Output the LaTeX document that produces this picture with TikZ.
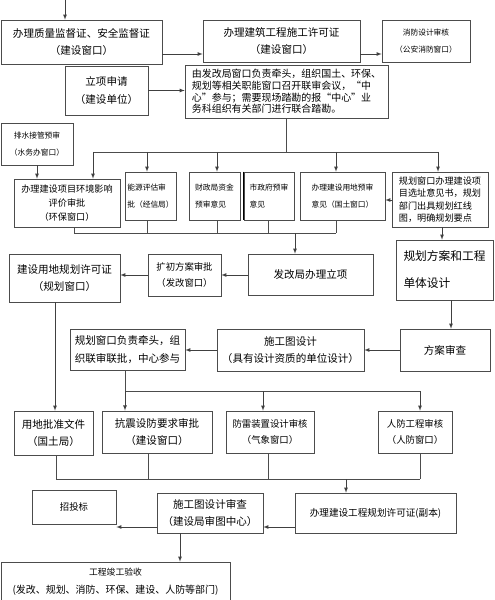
\documentclass[tikz,border=0pt]{standalone}
\usepackage{fontspec}
\setmainfont{Noto Sans CJK SC}
\usepackage{tikz}

\begin{document}
\begin{tikzpicture}[x=0.03cm,y=-0.03cm,
	line width=0.5pt, draw=black!70,
	box/.style 2 args={draw=black!70, inner sep=1pt, minimum width=#1*0.03cm, minimum height=#2*0.03cm},
	big/.style={font=\fontsize{9}{15}\selectfont},
	mid/.style={font=\fontsize{8}{14}\selectfont},
	sml/.style={font=\fontsize{6.6}{14}\selectfont},
	arr/.style={-latex, draw=black!75}]
\useasboundingbox (0,0) rectangle (494,600);
% top row
\node[box={161}{44},big,align=center] (quality) at (81.5,42) {办理质量监督证、安全监督证\\（建设窗口）};
\node[box={157}{42},big,align=center] (permit) at (281.5,41) {办理建筑工程施工许可证\\（建设窗口）};
\node[box={88}{42},sml,align=center] (fire) at (426,41) {消防设计审核\\（公安消防窗口）};
\node[box={83}{49},big,align=center] (apply) at (106.5,90.5) {立项申请\\（建设单位）};
\node[box={203}{53},font=\fontsize{8.5}{10}\selectfont,align=left] (joint) at (286.5,91.5) {由发改局窗口负责牵头，组织国土、环保、\\规划等相关职能窗口召开联审会议，“中\\心”参与；需要现场踏勘的报“中心”业\\务科组织有关部门进行联合踏勘。};
% pre-review row
\node[box={72}{42},sml,align=center] (drain) at (37,144) {排水接管预审\\（水务办窗口）};
\node[box={106}{48},font=\fontsize{7.8}{12}\selectfont,align=center] (env) at (67,203) {办理建设项目环境影响\\评价审批\\（环保窗口）};
\node[box={51}{48},sml,align=left] (energy) at (150.5,196) {能源评估审\\批（经信局）};
\node[box={51}{48},sml,align=left] (fund) at (214.5,196) {财政局资金\\预审意见};
\node[box={50}{48},sml,align=left] (city) at (269,196) {市政府预审\\意见};
\draw[line width=1.2pt,black] (city.north west) -- (city.south west);
\node[box={85}{48},sml,align=left] (land) at (342.5,196) {办理建设用地预审\\意见（国土窗口）};
\node[box={96}{55},font=\fontsize{7.8}{10.5}\selectfont,align=left] (site) at (440,199.5) {规划窗口办理建设项\\目选址意见书，规划\\部门出具规划红线\\图，明确规划要点};
% approval row
\node[box={125}{41},big] (ndrc) at (310.5,274.5) {发改局办理立项};
\node[box={73}{42},mid,align=center] (prelim) at (184.5,275) {扩初方案审批\\（发改窗口）};
\node[box={111}{48},big,align=center] (landplan) at (64.5,278) {建设用地规划许可证\\（规划窗口）};
\node[box={97}{60},font=\fontsize{10}{23}\selectfont,align=left] (scheme) at (444.5,270) {规划方案和工程\\单体设计};
% design row
\node[box={90}{42},big] (check) at (445,350) {方案审查};
\node[box={147}{42},big,align=center] (drawing) at (290.5,350) {施工图设计\\（具有设计资质的单位设计）};
\node[box={115}{41},big,align=left] (lead) at (127.5,349.5) {规划窗口负责牵头，组\\织联审联批，中心参与};
% review row
\node[box={79}{44},big,align=center] (landdoc) at (53.5,433) {用地批准文件\\（国土局）};
\node[box={110}{42},big,align=center,line width=0.8pt] (quake) at (157,432) {抗震设防要求审批\\（建设窗口）};
\node[box={88}{42},mid,align=center] (thunder) at (270,432) {防雷装置设计审核\\（气象窗口）};
\node[box={74}{42},mid,align=center] (civil) at (415,432) {人防工程审核\\（人防窗口）};
% bottom
\node[box={84}{34},mid] (bid) at (74,507) {招投标};
\node[box={106}{40},big,align=center] (audit) at (210,513) {施工图设计审查\\（建设局审图中心）};
\node[box={161}{40},font=\fontsize{8.2}{14}\selectfont] (copy) at (375.5,513) {办理建设工程规划许可证(副本)};
\node[box={229}{40},align=center,font=\fontsize{8.5}{15}\selectfont] (accept) at (115.5,582) {{\fontsize{7.5}{15}\selectfont 工程竣工验收}\\(发改、规划、消防、环保、建设、人防等部门)};
% connectors
\coordinate (start) at (65,0);
\draw[arr] (start) -- (quality.north -| start);
\draw[arr] (quality.east |- 0,54) -- (permit.west |- 0,54);
\draw[arr] (permit.east |- 0,54) -- (fire.west |- 0,54);
\draw[arr] (apply.east) -- (joint.west |- apply.east);
\draw (joint.south) -- (joint.south |- 0,152);
\draw (93,152) -- (438,152);
\foreach \n/\x in {env/93,energy/147,fund/217,land/336,site/438}
	\draw[arr] (\x,152) -- (\n.north -| \x,0);
\draw[arr] (drain.south) -- (drain.south |- env.north);
\draw[arr] (site.west |- 0,200) -- (land.east |- 0,200);
\foreach \n/\x in {env/74,energy/147,fund/217,city/268,land/336}
	\draw (\n.south -| \x,0) -- (\x,233);
\draw (74,233) -- (336,233);
\draw[arr] (295,233) -- (ndrc.north -| 295,0);
\draw[arr] (ndrc.west |- 0,275) -- (prelim.east |- 0,275);
\draw[arr] (prelim.west |- 0,275) -- (landplan.east |- 0,275);
\draw[arr] (site.south -| 442,0) -- (scheme.north -| 442,0);
\draw[arr] (scheme.south -| 451,0) -- (check.north -| 451,0);
\draw[arr] (check.west) -- (drawing.east |- check.west);
\draw[arr] (drawing.west) -- (lead.east |- drawing.west);
\draw[arr] (landplan.south -| 55,0) -- (landdoc.north -| 55,0);
\draw (lead.south -| 125,0) -- (125,391) -- (420,391);
\foreach \n/\x in {quake/125,thunder/263,civil/420}
	\draw[arr] (\x,391) -- (\n.north -| \x,0);
\foreach \n/\x in {landdoc/56,quake/148,thunder/268,civil/420}
	\draw (\n.south -| \x,0) -- (\x,479);
\draw (56,479) -- (420,479);
\draw[arr] (346,479) -- (copy.north -| 346,0);
\draw[arr] (copy.west |- 0,527) -- (audit.east |- 0,527);
\draw[arr] (audit.west |- 0,527) -- (bid.east |- 0,527);
\draw[arr] (audit.south -| 180,0) -- (accept.north -| 180,0);
\end{tikzpicture}
\end{document}
